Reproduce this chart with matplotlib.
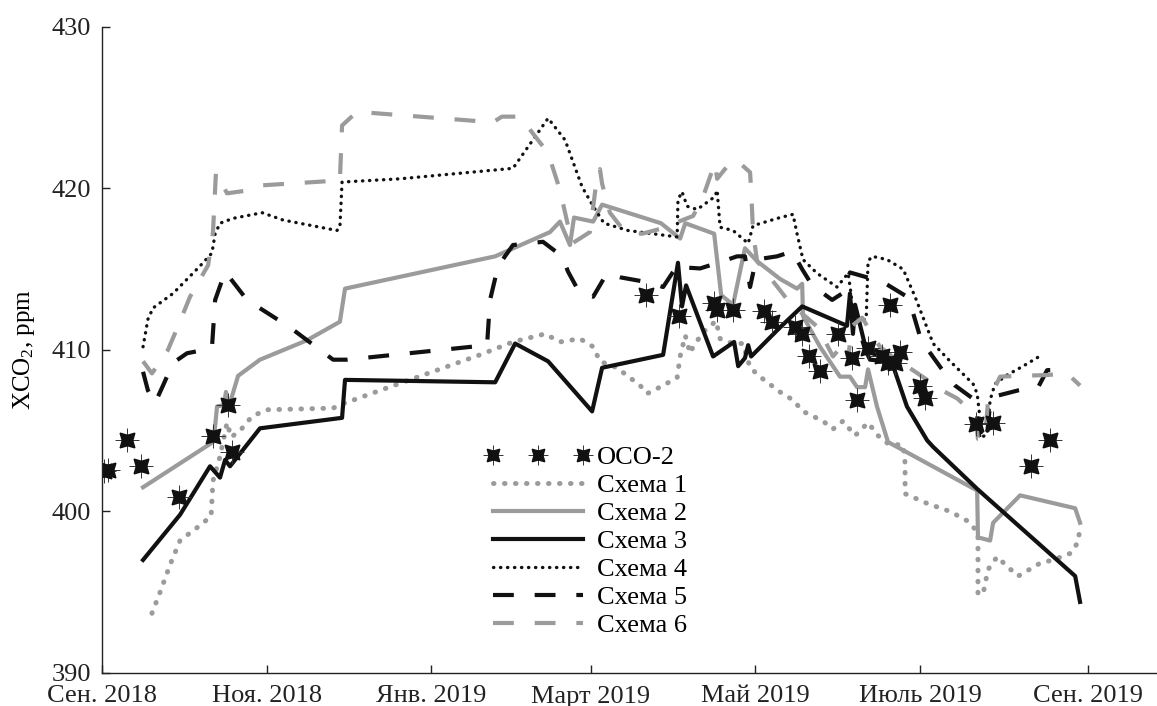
import numpy as np
import pandas as pd
import matplotlib
matplotlib.use("Agg")
import matplotlib.pyplot as plt
from matplotlib.legend_handler import HandlerTuple

plt.rcParams['font.family'] = ['Liberation Serif', 'DejaVu Serif']
plt.rcParams['mathtext.default'] = 'regular'

START = pd.Timestamp('2018-09-01')

# Observation / model time stamps are stored as days since 2018-09-01
oco_day = [0.8, 2.4, 9.1, 14.4, 28.5, 41.0, 46.6, 48.3, 201.5, 213.7, 226.7, 227.7,
           233.7, 245.2, 248.0, 256.7, 259.1, 262.0, 265.9, 272.7, 277.7, 279.5,
           283.8, 288.8, 291.9, 291.2, 293.7, 295.6, 303.0, 304.8, 323.7, 330.1,
           344.0, 351.1]
oco_val = [402.5, 402.6, 404.4, 402.8, 400.9, 404.7, 406.6, 403.7, 413.4, 412.1, 412.9, 412.5,
           412.5, 412.4, 411.75, 411.4, 411.0, 409.6, 408.7, 411.0, 409.5, 406.9,
           410.1, 409.6, 412.8, 409.2, 409.2, 409.9, 407.8, 407.0, 405.4, 405.5,
           402.8, 404.4]

s1_day = [18.5, 21.5, 25.2, 28.9, 35.2, 40.4, 41.1, 43.7, 46.3, 47.8, 51.1, 55.6, 61.1,
          85.6, 88.1, 103.0, 121.5, 140.0, 152.2, 164.1, 169.6, 177.0, 181.9, 184.4,
          190.7, 199.3, 201.9, 207.8, 213.0, 214.1, 216.0, 217.8, 218.9, 222.6, 227.4,
          228.9, 233.7, 237.4, 240.0, 244.8, 251.1, 255.9, 259.6, 267.0, 270.7, 274.4,
          278.9, 283.7, 287.4, 291.1, 296.7, 297.4, 297.4, 305.6, 314.1, 320.7, 324.4,
          324.4, 326.3, 328.1, 331.5, 335.2, 339.3, 347.4, 352.2, 358.5, 361.5, 362.2]
s1_val = [393.7, 395.0, 396.7, 398.2, 399.0, 399.7, 401.9, 403.4, 405.5, 404.6, 405.0, 405.9, 406.3,
          406.4, 406.6, 407.5, 408.6, 409.7, 410.5, 411.0, 410.5, 410.7, 410.2, 409.3,
          408.9, 407.8, 407.3, 407.8, 408.3, 409.6, 410.9, 409.8, 410.2, 411.1, 411.8,
          410.7, 410.4, 410.4, 408.9, 408.2, 407.4, 406.9, 406.2, 405.6, 405.1, 405.6,
          404.7, 405.5, 404.7, 404.2, 404.1, 403.0, 401.1, 400.5, 400.0, 399.4, 398.7,
          394.9, 394.9, 396.4, 397.2, 396.6, 396.0, 396.8, 397.0, 397.4, 398.1, 399.1]

s2_day = [15.2, 41.1, 41.9, 42.6, 45.2, 45.9, 47.0, 50.4, 58.5, 75.9, 88.1, 90.0, 145.6,
          165.9, 169.6, 173.3, 174.8, 181.9, 185.2, 207.0, 214.1, 216.0, 226.7, 229.3,
          233.7, 238.1, 242.6, 251.1, 257.4, 259.3, 259.6, 265.9, 273.3, 277.0, 279.6,
          282.6, 283.7, 287.0, 291.1, 324.1, 324.4, 328.9, 330.0, 340.0, 360.4, 362.2]
s2_val = [401.5, 404.3, 405.3, 406.5, 406.6, 407.4, 406.5, 408.4, 409.4, 410.6, 411.75, 413.8, 415.8,
          417.3, 417.95, 416.5, 418.2, 417.95, 419.0, 417.85, 416.9, 417.85, 417.2, 413.4,
          412.8, 416.3, 415.5, 414.4, 413.8, 414.1, 412.1, 410.2, 408.35, 408.35, 407.7,
          407.7, 408.8, 406.5, 404.3, 401.3, 398.4, 398.2, 399.3, 401.0, 400.2, 399.3]

s3_day = [15.2, 28.9, 40.0, 43.7, 45.6, 47.4, 58.5, 88.9, 90.0, 145.6, 153.0, 165.2, 181.5,
          185.2, 207.8, 213.3, 214.8, 216.3, 226.3, 234.1, 235.6, 238.1, 239.3, 240.4,
          251.1, 259.3, 275.9, 277.0, 278.1, 278.9, 283.3, 284.4, 291.1, 293.0, 298.1,
          305.6, 307.8, 324.1, 360.4, 362.2]
s3_val = [397.0, 399.8, 402.8, 402.1, 403.2, 402.8, 405.15, 405.8, 408.15, 408.0, 410.4, 409.3, 406.2,
          408.9, 409.7, 415.4, 412.7, 414.0, 409.6, 410.5, 409.0, 409.5, 410.3, 409.6,
          411.4, 412.7, 411.5, 413.5, 411.0, 412.8, 409.8, 409.4, 409.3, 409.0, 406.5,
          404.4, 404.0, 401.4, 396.0, 394.4]

s4_day = [15.2, 17.0, 18.9, 26.3, 36.3, 40.7, 41.9, 43.7, 48.5, 59.3, 67.0, 87.0, 88.1, 88.9,
          110.4, 152.2, 165.2, 171.5, 174.1, 177.8, 181.9, 185.9, 194.8, 213.0, 213.3,
          214.8, 216.7, 220.4, 227.0, 227.8, 228.9, 233.7, 239.3, 241.1, 251.1, 255.9,
          257.4, 259.6, 264.8, 272.2, 276.3, 277.4, 278.1, 283.0, 283.7, 285.2, 290.7,
          296.7, 301.1, 304.1, 307.8, 314.1, 322.6, 324.1, 325.2, 325.9, 327.8, 328.9,
          330.7, 335.2, 341.1, 348.1]
s4_val = [410.2, 411.9, 412.6, 413.5, 415.2, 416.0, 417.2, 417.85, 418.15, 418.5, 418.05, 417.4, 417.6, 420.4,
          420.6, 421.25, 424.35, 423.0, 421.8, 420.1, 418.9, 417.85, 417.4, 417.0, 419.3,
          419.8, 418.9, 418.7, 419.5, 419.9, 417.6, 417.4, 416.6, 417.7, 418.2, 418.4,
          417.2, 415.6, 414.75, 413.9, 414.75, 413.5, 411.8, 411.9, 415.5, 415.8, 415.6,
          415.0, 413.3, 412.0, 410.4, 409.3, 407.9, 407.3, 405.7, 404.6, 404.8, 406.9,
          407.9, 408.45, 409.0, 409.7]

s5_day = [15.2, 17.0, 19.6, 22.6, 26.3, 31.5, 40.7, 41.9, 45.6, 53.7, 69.6, 85.6, 90.7, 142.6,
          143.7, 146.7, 152.2, 163.3, 170.4, 172.6, 177.0, 181.9, 187.0, 191.9, 201.9,
          207.8, 213.3, 216.7, 221.5, 230.0, 235.2, 238.1, 240.0, 242.2, 250.0, 255.6,
          259.3, 263.0, 270.4, 274.1, 277.0, 283.3, 289.3, 298.1, 300.0, 303.0, 305.9,
          313.0, 315.9, 323.3, 324.1, 325.2, 327.8, 328.9, 330.0, 339.3, 346.7, 350.0, 357.4]
s5_val = [408.65, 407.5, 406.7, 407.8, 409.2, 409.8, 410.1, 413.1, 414.85, 413.1, 411.4, 409.4, 409.4, 410.3,
          413.1, 415.2, 416.5, 416.7, 415.8, 414.85, 413.5, 413.3, 414.75, 414.5, 414.2,
          413.9, 415.3, 415.1, 415.05, 415.5, 415.8, 415.8, 413.9, 415.6, 415.8, 416.1,
          415.0, 414.0, 413.1, 413.5, 414.8, 414.5, 414.2, 413.3, 412.5, 410.8, 410.0,
          408.35, 407.8, 406.9, 405.9, 404.2, 404.8, 406.7, 407.1, 407.5, 407.7, 408.75, 408.8]

s6_day = [15.2, 18.5, 24.4, 28.1, 32.6, 39.3, 41.1, 42.2, 46.3, 54.8, 59.6, 88.1, 88.9, 94.4,
          144.8, 148.1, 154.8, 159.6, 165.2, 169.6, 171.5, 174.1, 180.7, 183.3, 184.4,
          185.2, 188.1, 193.7, 200.0, 206.7, 218.9, 222.2, 227.0, 227.8, 231.9, 235.2,
          236.7, 240.0, 240.4, 241.1, 242.6, 251.1, 254.8, 265.2, 270.7, 275.2, 276.3,
          277.8, 281.5, 288.1, 295.6, 298.1, 305.6, 311.1, 316.7, 323.3, 324.4, 327.0,
          328.1, 332.6, 340.0, 350.0, 357.4, 362.2]
s6_val = [409.3, 408.55, 410.0, 411.45, 413.3, 415.25, 417.3, 421.0, 419.7, 419.9, 420.2, 420.5, 423.9, 424.75,
          424.1, 424.45, 424.45, 423.4, 422.2, 419.9, 418.5, 416.6, 417.3, 420.7, 421.2,
          420.3, 418.5, 417.3, 417.2, 417.5, 418.3, 419.3, 421.6, 420.6, 421.45, 421.75,
          421.5, 421.0, 419.9, 417.3, 415.5, 413.7, 412.9, 411.4, 409.6, 410.5, 409.5,
          411.5, 412.0, 410.2, 409.2, 409.0, 408.15, 407.5, 407.0, 406.0, 404.5, 404.5,
          406.8, 408.35, 408.4, 408.45, 408.55, 407.8]

tick_dates = ['2018-09-01', '2018-11-01', '2019-01-01', '2019-03-01',
              '2019-05-01', '2019-07-01', '2019-09-01']
tick_labels = ['Сен. 2018', 'Ноя. 2018', 'Янв. 2019', 'Март 2019',
               'Май 2019', 'Июль 2019', 'Сен. 2019']
y_ticks = [390, 400, 410, 420, 430]


def to_dates(days):
    return START + pd.to_timedelta(np.asarray(days, dtype=float), unit='D')


GRAY = '#9b9b9b'
INK = '#111111'

fig = plt.figure(figsize=(11.57, 7.06), dpi=100)
ax = fig.add_axes([102 / 1157, 33 / 706, 1055 / 1157, 646 / 706])

ax.plot(to_dates(s1_day), s1_val, color=GRAY, lw=3.6, linestyle=(0, (0.1, 2.1)),
        dash_capstyle='round', label='Схема 1')
ax.plot(to_dates(s2_day), s2_val, color=GRAY, lw=3.0, label='Схема 2')
ax.plot(to_dates(s3_day), s3_val, color=INK, lw=3.0, label='Схема 3')
ax.plot(to_dates(s4_day), s4_val, color=INK, lw=2.4, linestyle=(0, (0.1, 2.0)),
        dash_capstyle='round', label='Схема 4')
ax.plot(to_dates(s5_day), s5_val, color=INK, lw=3.0, linestyle=(0, (5, 5)),
        label='Схема 5')
ax.plot(to_dates(s6_day), s6_val, color=GRAY, lw=3.0, linestyle=(0, (5, 5)),
        label='Схема 6')

oco_cross, = ax.plot(to_dates(oco_day), oco_val, linestyle='none', marker='+',
                     markersize=17, markeredgewidth=0.7, color='#333333')
oco_star, = ax.plot(to_dates(oco_day), oco_val, linestyle='none', marker=(4, 1, 45),
                    markersize=15, color=INK)

handles, labels = ax.get_legend_handles_labels()
leg = ax.legend([(oco_cross, oco_star)] + handles, ['OCO-2'] + labels,
                handler_map={tuple: HandlerTuple(ndivide=1, pad=0)},
                loc='upper left', bbox_to_anchor=(0.363, 0.352), frameon=False,
                fontsize=19, numpoints=3, handlelength=4.0, handletextpad=0.25,
                labelspacing=0.17, borderpad=0, borderaxespad=0, markerscale=0.85)

ax.set_xlim(START, START + pd.Timedelta(days=390.7))
ax.set_ylim(390, 430)
ax.set_xticks(pd.to_datetime(tick_dates))
ax.set_xticklabels(tick_labels)
ax.set_yticks(y_ticks)

ax.tick_params(axis='both', direction='in', length=6, width=1, labelsize=19,
               colors='#222222')
ax.tick_params(axis='y', pad=8)
ax.tick_params(axis='x', pad=9)

for side in ('top', 'right'):
    ax.spines[side].set_visible(False)
for side in ('left', 'bottom'):
    ax.spines[side].set_linewidth(1.0)
    ax.spines[side].set_color('#222222')

ax.set_ylabel('XCO$_2$, ppm', fontsize=18)
ax.yaxis.set_label_coords(-0.062, 0.5)

fig.savefig('out.png', dpi=100)
